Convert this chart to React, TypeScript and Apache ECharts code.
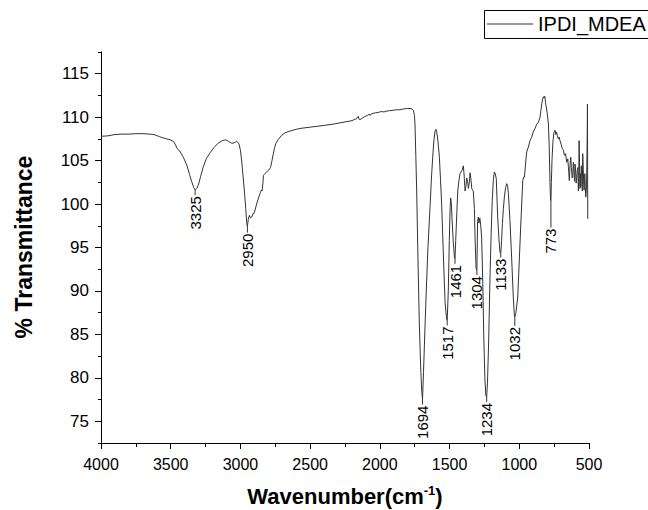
import React, { useEffect, useRef } from "react";
import * as echarts from "echarts";

// ---- Data ----
const wavenumbers: number[] = [
  4000, 3950, 3900, 3850, 3800, 3750, 3700, 3650, 3620, 3580,
  3540, 3505, 3480, 3465, 3455, 3435, 3410, 3385, 3365, 3350,
  3335, 3325, 3312, 3300, 3285, 3266, 3245, 3218, 3190, 3160,
  3130, 3105, 3085, 3062, 3045, 3027, 3012, 3000, 2990, 2980,
  2970, 2962, 2955, 2950, 2944, 2936, 2928, 2919, 2910, 2903,
  2895, 2884, 2872, 2860, 2850, 2845, 2838, 2835, 2825, 2812,
  2798, 2784, 2775, 2764, 2755, 2747, 2730, 2705, 2680, 2645,
  2600, 2573, 2500, 2450, 2400, 2334, 2300, 2250, 2200, 2180,
  2167, 2160, 2155, 2150, 2143, 2130, 2110, 2090, 2075, 2070,
  2060, 2047, 2030, 2010, 1990, 1970, 1951, 1930, 1900, 1880,
  1856, 1830, 1800, 1784, 1770, 1760, 1752, 1748, 1742, 1736,
  1727, 1717, 1708, 1700, 1694, 1687, 1677, 1667, 1655, 1640,
  1630, 1621, 1612, 1604, 1598, 1592, 1583, 1573, 1565, 1556,
  1544, 1532, 1521, 1517, 1509, 1502, 1496, 1492, 1487, 1483,
  1473, 1465, 1461, 1456, 1448, 1441, 1432, 1425, 1418, 1410,
  1401, 1395, 1389, 1383, 1377, 1371, 1365, 1359, 1353, 1347,
  1341, 1335, 1330, 1322, 1316, 1310, 1304, 1299, 1294, 1289,
  1283, 1277, 1270, 1262, 1255, 1247, 1240, 1234, 1228, 1220,
  1210, 1202, 1194, 1186, 1179, 1172, 1165, 1155, 1146, 1138,
  1133, 1127, 1121, 1114, 1107, 1098, 1090, 1084, 1078, 1067,
  1055, 1043, 1035, 1032, 1025, 1011, 999, 987, 975, 969,
  963, 955, 947, 935, 923, 911, 900, 887, 875, 863,
  851, 845, 838, 832, 827, 822, 817, 810, 800, 791,
  785, 780, 776, 773, 770, 765, 759, 752, 744, 738,
  733, 727, 720, 714, 708, 700, 692, 684, 676, 668,
  660, 652, 645, 641, 636, 631, 626, 621, 617, 612,
  607, 603, 600, 596, 592, 588, 584, 580, 576, 573,
  571, 568, 565, 562, 559, 555, 551, 548, 545, 541,
  538, 535, 530, 527, 523, 519, 516, 513, 511, 509,
];

const transmittance: number[] = [
  107.8, 107.85, 108.0, 108.05, 108.05, 108.1, 108.1, 108.05, 108.0, 107.75,
  107.55, 107.4, 107.2, 106.8, 106.4, 106.1, 105.4, 104.5, 103.4, 102.6,
  101.9, 101.6, 101.8, 102.3, 103.2, 104.3, 105.2, 105.9, 106.5, 107.0,
  107.3, 107.4, 107.2, 107.0, 107.05, 107.2, 107.0, 106.2, 104.8, 103.0,
  101.2, 99.5, 97.9, 97.4, 98.2, 98.7, 98.4, 98.5, 98.9, 98.9,
  99.3, 100.0, 100.6, 101.2, 101.6, 101.5, 102.5, 103.3, 103.5, 103.7,
  103.9, 104.2, 104.9, 105.8, 106.5, 106.95, 107.4, 107.9, 108.2, 108.4,
  108.6, 108.7, 108.85, 108.95, 109.05, 109.2, 109.3, 109.45, 109.6, 109.75,
  109.8, 110.0, 110.1, 109.8, 109.7, 109.85, 110.05, 110.2, 110.35, 110.2,
  110.4, 110.45, 110.5, 110.55, 110.65, 110.6, 110.7, 110.75, 110.8, 110.85,
  110.85, 110.95, 111.0, 111.0, 110.95, 110.8, 110.2, 109.2, 105.5, 101.6,
  94.0, 86.3, 81.5, 78.6, 77.5, 80.6, 85.5, 90.1, 95.0, 99.7,
  103.0, 105.4, 107.4, 108.4, 108.6, 108.3, 107.2, 105.4, 102.8, 99.7,
  93.9, 88.6, 86.7, 86.6, 90.1, 95.8, 99.6, 100.7, 100.0, 98.5,
  95.5, 93.9, 93.7, 95.8, 99.0, 101.6, 102.8, 103.5, 103.7, 103.9,
  104.4, 103.2, 101.5, 102.0, 103.0, 102.6, 101.8, 102.4, 103.6, 102.9,
  101.8, 101.6, 101.5, 99.5, 95.5, 92.6, 92.4, 98.0, 98.5, 97.8,
  98.4, 97.6, 96.2, 91.0, 85.0, 80.0, 78.0, 77.8, 79.5, 84.0,
  91.6, 96.5, 100.4, 102.8, 103.7, 103.5, 102.9, 98.5, 96.0, 94.4,
  94.3, 95.8, 97.75, 99.5, 100.8, 101.9, 102.35, 102.1, 101.2, 98.1,
  93.9, 89.3, 87.1, 87.0, 87.4, 89.3, 93.9, 98.5, 102.7, 103.1,
  103.1, 104.6, 106.0, 106.55, 107.3, 107.7, 108.3, 108.7, 109.2, 109.4,
  110.0, 110.8, 111.6, 112.1, 112.35, 112.2, 112.4, 111.5, 110.5, 109.2,
  106.5, 102.5, 100.6, 100.4, 102.5, 105.2, 107.1, 108.2, 108.5, 108.0,
  108.3, 107.9, 107.5, 107.7, 107.3, 106.9, 106.4, 106.2, 105.6, 105.8,
  104.8, 105.2, 103.6, 102.7, 104.5, 105.4, 104.2, 103.0, 103.1, 104.8,
  103.5, 102.6, 104.6, 103.8, 102.4, 102.35, 103.9, 104.2, 101.5, 104.0,
  107.3, 104.8, 101.8, 103.5, 102.0, 104.4, 103.0, 101.5, 105.8, 104.0,
  102.3, 101.6, 103.5, 102.0, 100.8, 101.6, 103.8, 107.5, 111.5, 98.3,
];

const peakWavenumbers: number[] = [3325, 2950, 1694, 1517, 1461, 1304, 1234, 1133, 1032, 773];
const peakTransmittance: number[] = [101.6, 97.4, 77.5, 86.6, 93.7, 92.4, 77.8, 94.3, 87.0, 100.4];

const yMajorTicks: number[] = [75, 80, 85, 90, 95, 100, 105, 110, 115];
const yMinorTicks: number[] = [72.5, 77.5, 82.5, 87.5, 92.5, 97.5, 102.5, 107.5, 112.5, 117.5];

const seriesName = "IPDI_MDEA";
const yTitle = "% Transmittance";

// style: leader-line length (px) under each peak label
const labelGaps: number[] = [5, 6, 5, 5, 5, 5, 5, 4, 9, 27];

const FONT = "'Liberation Sans', Arial, Helvetica, sans-serif";

export default function App() {
  const ref = useRef<HTMLDivElement>(null);

  useEffect(() => {
    document.body.style.margin = "0";
    if (!ref.current) return;
    const chart = echarts.init(ref.current, undefined, { renderer: "svg" });

    const spectrum = wavenumbers.map((w, i) => [w, transmittance[i]]);
    const peaks = peakWavenumbers.map((w, i) => [w, peakTransmittance[i]]);

    chart.setOption({
      animation: false,
      backgroundColor: "#ffffff",
      textStyle: { fontFamily: FONT },
      grid: { left: 101, top: 52, right: 59, bottom: 67, containLabel: false },
      legend: {
        left: 487,
        top: 14,
        padding: 0,
        icon: "rect",
        itemWidth: 46,
        itemHeight: 1,
        itemGap: 5,
        data: [{ name: seriesName }],
        itemStyle: { color: "#333" },
        textStyle: { fontSize: 20, color: "#000", fontFamily: FONT },
      },
      xAxis: {
        type: "value",
        inverse: true,
        min: 500,
        max: 4000,
        interval: 500,
        axisLine: { show: true, lineStyle: { color: "#000", width: 1 } },
        axisTick: { show: true, length: 6, lineStyle: { color: "#000" } },
        minorTick: { show: true, splitNumber: 2, length: 4, lineStyle: { color: "#000" } },
        axisLabel: {
          fontSize: 16,
          color: "#000",
          margin: 13,
          fontFamily: FONT,
          formatter: (v: number) => String(v),
        },
        splitLine: { show: false },
        minorSplitLine: { show: false },
      },
      yAxis: [
        {
          type: "value",
          min: 72.5,
          max: 117.5,
          axisLine: { show: true, lineStyle: { color: "#000", width: 1 } },
          axisTick: { show: true, length: 6, customValues: yMajorTicks, lineStyle: { color: "#000" } },
          axisLabel: {
            fontSize: 17,
            color: "#000",
            margin: 12,
            customValues: yMajorTicks,
            fontFamily: FONT,
            formatter: (v: number) => String(v),
          },
          splitLine: { show: false },
        },
        {
          type: "value",
          min: 72.5,
          max: 117.5,
          position: "left",
          axisLine: { show: false },
          axisTick: { show: true, length: 3, customValues: yMinorTicks, lineStyle: { color: "#000" } },
          axisLabel: { show: false },
          splitLine: { show: false },
        },
      ],
      series: [
        {
          name: seriesName,
          type: "line",
          data: spectrum,
          symbol: "none",
          showSymbol: false,
          lineStyle: { color: "#333", width: 1 },
          itemStyle: { color: "#333" },
          z: 3,
        },
        {
          name: "peaks",
          type: "custom",
          data: peaks,
          z: 4,
          renderItem: (params: any, api: any) => {
            const p = api.coord([api.value(0), api.value(1)]);
            const gap = labelGaps[params.dataIndex];
            return {
              type: "group",
              children: [
                {
                  type: "line",
                  shape: { x1: p[0], y1: p[1], x2: p[0], y2: p[1] + gap },
                  style: { stroke: "#333", lineWidth: 1 },
                },
                {
                  type: "text",
                  x: p[0],
                  y: p[1] + gap + 1,
                  rotation: Math.PI / 2,
                  style: {
                    text: String(peakWavenumbers[params.dataIndex]),
                    align: "right",
                    verticalAlign: "middle",
                    fontSize: 15,
                    fontFamily: FONT,
                    fill: "#000",
                  },
                },
              ],
            };
          },
        },
      ],
      graphic: [
        {
          type: "rect",
          shape: { x: 484.5, y: 10.5, width: 200, height: 28 },
          style: { fill: "none", stroke: "#000", lineWidth: 1 },
          silent: true,
        },
        {
          type: "text",
          x: 24,
          y: 247,
          rotation: Math.PI / 2,
          style: {
            text: yTitle,
            align: "center",
            verticalAlign: "middle",
            fontSize: 23,
            fontWeight: "bold",
            fontFamily: FONT,
            fill: "#000",
          },
        },
        {
          type: "text",
          x: 345,
          y: 496,
          style: {
            text: "{a|Wavenumber(cm}{s|-1}{a|)}",
            align: "center",
            verticalAlign: "middle",
            fill: "#000",
            rich: {
              a: { fontSize: 22, fontWeight: "bold", fontFamily: FONT, fill: "#000", lineHeight: 24 },
              s: { fontSize: 13, fontWeight: "bold", fontFamily: FONT, fill: "#000", verticalAlign: "top", lineHeight: 24 },
            },
          },
        },
      ],
    });

    return () => chart.dispose();
  }, []);

  return <div ref={ref} style={{ width: 648, height: 510 }} />;
}
